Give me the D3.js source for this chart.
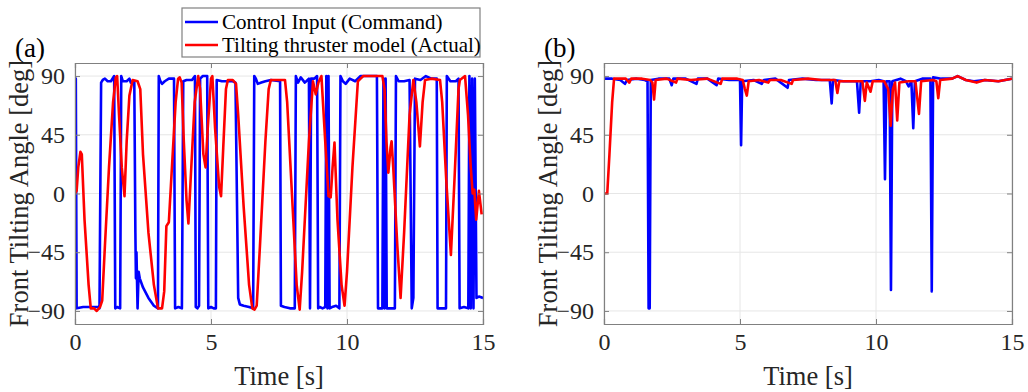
<!DOCTYPE html>
<html>
<head>
<meta charset="utf-8">
<script src="https://cdn.jsdelivr.net/npm/d3@7"></script>
<style>
  body { margin: 0; background: #fff; }
  svg { font-family: "Liberation Serif", "Times New Roman", serif; }
</style>
</head>
<body>
<svg id="chart" width="1028" height="392"></svg>
<script>
// tick labels
const xTicks = [0, 5, 10, 15];
const yTicks = [90, 45, 0, -45, -90];

// (a) command vs actual, [time s, angle deg]
const cmdA = [
  [0, 88], [0.03, 88], [0.06, -88], [0.3, -87], [0.6, -87], [0.85, -87], [0.9, -88], [0.96, 85], [1.02, 87],
  [1.1, 88], [1.2, 86], [1.32, 86], [1.44, 90], [1.48, -88], [1.55, -87], [1.66, -88], [1.7, 90], [1.76, 86],
  [1.9, 86], [2.0, 88], [2.05, 85], [2.12, 86], [2.18, 86], [2.22, -30], [2.24, -65], [2.26, -45], [2.3, -88],
  [2.34, -60], [2.38, -65], [2.5, -72], [2.7, -80], [2.9, -86], [3.05, -88], [3.08, 90], [3.14, 86], [3.2, 84],
  [3.3, 86], [3.45, 88], [3.64, 88], [3.68, -88], [3.8, -87], [3.93, -88], [3.98, 86], [4.1, 87], [4.3, 87],
  [4.41, 90], [4.44, -87], [4.5, -88], [4.56, -86], [4.6, 88], [4.7, 90], [4.86, 90], [4.9, -88], [5.0, -87],
  [5.1, -88], [5.18, -88], [5.21, 87], [5.4, 86], [5.6, 86], [5.8, 86], [5.9, 85], [6.0, -80], [6.06, -85],
  [6.2, -86], [6.4, -87], [6.55, -88], [6.59, 90], [6.65, 88], [6.72, 84], [6.85, 85], [7.0, 86], [7.2, 87],
  [7.54, 86], [7.57, -86], [7.7, -87], [7.9, -88], [8.08, -88], [8.12, 90], [8.2, 85], [8.3, 89], [8.45, 85],
  [8.6, 88], [8.64, -88], [8.68, 88], [8.8, 88], [8.9, 90], [8.94, -88], [9.0, -87], [9.1, -88], [9.2, -87],
  [9.24, 90], [9.28, -88], [9.32, 90], [9.36, -88], [9.45, -87], [9.6, -86], [9.72, -88], [9.76, 90], [9.85, 86],
  [9.95, 84], [10.1, 88], [10.3, 86], [10.5, 90], [10.8, 90], [11.1, 90], [11.14, -88], [11.3, -88], [11.34, 88],
  [11.38, -88], [11.42, 88], [11.46, -88], [11.6, -88], [11.76, -88], [11.8, 90], [11.9, 86], [12.1, 86],
  [12.3, 87], [12.38, -88], [12.44, -80], [12.5, 88], [12.7, 87], [12.9, 90], [13.1, 88], [13.3, 88],
  [13.33, -88], [13.5, -88], [13.64, -88], [13.67, 90], [13.8, 86], [14.0, 86], [14.1, 88], [14.14, -88],
  [14.3, -87], [14.46, -88], [14.5, 90], [14.55, -88], [14.6, 88], [14.65, -88], [14.7, 88], [14.76, -80],
  [14.85, -79], [15, -80]
];
const actA = [
  [0, 0], [0.06, 2], [0.12, 20], [0.2, 32], [0.25, 30], [0.35, -20], [0.5, -70], [0.58, -88], [0.7, -88],
  [0.8, -90], [0.92, -87], [1.0, -82], [1.1, -40], [1.25, 20], [1.4, 70], [1.5, 89], [1.55, 90], [1.62, 60],
  [1.72, 20], [1.82, -2], [1.9, 40], [2.0, 75], [2.12, 87], [2.3, 86], [2.4, 80], [2.5, 30], [2.7, -30],
  [2.9, -70], [3.05, -88], [3.2, -88], [3.28, -75], [3.36, -25], [3.45, -22], [3.55, 15], [3.7, 70], [3.79, 88],
  [3.85, 89], [3.92, 85], [4.0, 40], [4.1, -5], [4.17, -23], [4.25, 10], [4.4, 70], [4.53, 90], [4.6, 80],
  [4.72, 30], [4.8, 20], [4.88, 50], [5.0, 88], [5.05, 90], [5.15, 50], [5.3, 5], [5.37, -2], [5.45, 35],
  [5.55, 80], [5.62, 87], [5.8, 87], [5.92, 84], [6.0, 60], [6.2, -10], [6.4, -70], [6.52, -88], [6.6, -89],
  [6.68, -86], [6.8, -40], [7.0, 40], [7.12, 80], [7.2, 87], [7.5, 87], [7.72, 87], [7.8, 70], [8.0, -10],
  [8.15, -70], [8.26, -89], [8.35, -60], [8.6, 40], [8.75, 86], [8.85, 76], [8.95, 85], [9.06, 90], [9.2, 40],
  [9.32, -2], [9.4, -3], [9.47, 20], [9.54, 39], [9.65, -20], [9.8, -70], [9.91, -86], [10.0, -60], [10.2, 20],
  [10.4, 86], [10.5, 88], [10.6, 90], [11.0, 90], [11.3, 90], [11.38, 80], [11.45, 40], [11.52, 16], [11.6, 35],
  [11.64, 40], [11.7, 20], [11.85, -40], [11.97, -80], [12.1, -30], [12.3, 60], [12.44, 87], [12.55, 70],
  [12.68, 36], [12.78, 70], [12.87, 87], [13.1, 88], [13.42, 87], [13.5, 70], [13.65, 10], [13.82, -47],
  [13.95, 10], [14.1, 80], [14.15, 87], [14.34, 90], [14.45, 60], [14.55, 20], [14.62, 0], [14.68, 3],
  [14.75, -20], [14.85, 2], [14.95, -16]
];

// (b) command vs actual
const cmdB = [
  [0, 88], [0.3, 88], [0.6, 87], [0.77, 84], [0.85, 87], [1.2, 88], [1.5, 87], [1.6, 86], [1.64, -88],
  [1.68, -88], [1.72, 87], [2.0, 88], [2.4, 88], [2.49, 83], [2.55, 88], [3.0, 88], [3.4, 84], [3.45, 88],
  [3.8, 88], [4.14, 83], [4.2, 88], [4.6, 87], [5.0, 87], [5.04, 37], [5.08, 86], [5.5, 87], [5.8, 84],
  [5.88, 87], [6.3, 88], [6.75, 81], [6.8, 87], [7.3, 88], [7.8, 87], [8.3, 87], [8.37, 69], [8.42, 87],
  [8.8, 86], [9.3, 86], [9.38, 62], [9.44, 86], [9.8, 86], [10.1, 87], [10.28, 86], [10.33, 11], [10.38, 86],
  [10.5, 86], [10.55, -74], [10.6, 86], [10.9, 88], [11.1, 86], [11.2, 82], [11.3, 86], [11.37, 50],
  [11.43, 86], [11.7, 88], [12.0, 88], [12.05, -75], [12.1, 89], [12.4, 88], [12.8, 88], [13.0, 90],
  [13.3, 87], [13.6, 86], [14.0, 87], [14.5, 86], [15, 88]
];
const actB = [
  [0, 0], [0.12, 0], [0.2, 30], [0.3, 70], [0.37, 88], [0.8, 88], [0.93, 85], [1.0, 88], [1.4, 88], [1.7, 87],
  [1.78, 85], [1.84, 72], [1.9, 87], [2.3, 88], [2.65, 85], [2.7, 88], [3.2, 87], [3.8, 88], [4.29, 84],
  [4.35, 88], [4.9, 88], [5.1, 87], [5.18, 80], [5.25, 75], [5.32, 86], [5.7, 87], [6.04, 85], [6.1, 87],
  [6.5, 87], [6.9, 84], [6.95, 87], [7.5, 88], [8.0, 87], [8.5, 87], [8.58, 77], [8.65, 86], [9.2, 86],
  [9.5, 86], [9.59, 71], [9.66, 85], [9.8, 78], [9.88, 86], [10.3, 86], [10.45, 80], [10.54, 52], [10.62, 80],
  [10.7, 85], [10.78, 56], [10.86, 85], [11.2, 86], [11.45, 86], [11.58, 61], [11.66, 86], [12.1, 87],
  [12.22, 86], [12.29, 73], [12.36, 87], [12.8, 88], [13.0, 90], [13.3, 87], [13.7, 85], [14.0, 87],
  [14.5, 86], [15, 88]
];

const legendLabels = ['Control Input (Command)', 'Tilting thruster model (Actual)'];
const colors = ['#0000ff', '#ff0000'];

const svg = d3.select('#chart');
const plotTop = 63, plotBottom = 324;

function drawPanel(left, right, cmd, act, tag, id) {
  const x = d3.scaleLinear().domain([0, 15]).range([left, right]);
  const y = d3.scaleLinear().domain([-100, 100]).range([plotBottom, plotTop]);
  const g = svg.append('g');

  // grid
  g.selectAll('.gx').data(xTicks).enter().append('line')
    .attr('x1', d => x(d)).attr('x2', d => x(d))
    .attr('y1', plotTop).attr('y2', plotBottom)
    .attr('stroke', '#e6e6e6').attr('stroke-width', 1);
  g.selectAll('.gy').data(yTicks).enter().append('line')
    .attr('x1', left).attr('x2', right)
    .attr('y1', d => y(d)).attr('y2', d => y(d))
    .attr('stroke', '#e6e6e6').attr('stroke-width', 1);

  g.append('clipPath').attr('id', 'clip' + id)
    .append('rect').attr('x', left).attr('y', plotTop)
    .attr('width', right - left).attr('height', plotBottom - plotTop);

  const line = d3.line().x(d => x(d[0])).y(d => y(d[1]));
  [cmd, act].forEach((data, i) => {
    g.append('path').datum(data)
      .attr('d', line)
      .attr('fill', 'none')
      .attr('stroke', colors[i])
      .attr('stroke-width', 2.6)
      .attr('stroke-linejoin', 'round')
      .attr('clip-path', `url(#clip${id})`);
  });

  // axes (ticks inside, box)
  const axB = d3.axisBottom(x).tickValues(xTicks).tickSize(-5).tickPadding(9).tickFormat(d3.format('d'));
  const axT = d3.axisTop(x).tickValues(xTicks).tickSize(-5).tickFormat('');
  const axL = d3.axisLeft(y).tickValues(yTicks).tickSize(-5).tickPadding(10).tickFormat(d3.format('d'));
  const axR = d3.axisRight(y).tickValues(yTicks).tickSize(-5).tickFormat('');
  [
    [axB, `translate(0,${plotBottom})`],
    [axT, `translate(0,${plotTop})`],
    [axL, `translate(${left},0)`],
    [axR, `translate(${right},0)`]
  ].forEach(([ax, tr]) => {
    const a = g.append('g').attr('transform', tr).call(ax);
    a.select('.domain').attr('stroke', '#808080').attr('stroke-width', 1.2);
    a.selectAll('.tick line').attr('stroke', '#808080');
    a.selectAll('text')
      .style('font-family', '"Liberation Serif", serif')
      .style('font-size', '24px')
      .attr('fill', '#262626');
  });

  // axis titles
  g.append('text')
    .attr('x', (left + right) / 2).attr('y', 385)
    .attr('text-anchor', 'middle')
    .style('font-size', '26.5px').attr('fill', '#262626')
    .text('Time [s]');
  g.append('text')
    .attr('transform', `translate(${left - 47},${(plotTop + plotBottom) / 2}) rotate(-90)`)
    .attr('text-anchor', 'middle')
    .style('font-size', '26.5px').attr('fill', '#262626')
    .text('Front Tilting Angle [deg]');

  g.append('text')
    .attr('x', left - 60).attr('y', 57)
    .style('font-size', '27px').attr('fill', '#000')
    .text(tag);
}

drawPanel(75, 483, cmdA, actA, '(a)', 'a');
drawPanel(604, 1012, cmdB, actB, '(b)', 'b');

// legend
const leg = svg.append('g');
leg.append('rect')
  .attr('x', 182).attr('y', 8).attr('width', 298).attr('height', 49)
  .attr('fill', '#fff').attr('stroke', '#808080').attr('stroke-width', 1.2);
legendLabels.forEach((lab, i) => {
  const yy = 22 + i * 23;
  leg.append('line')
    .attr('x1', 185).attr('x2', 218).attr('y1', yy).attr('y2', yy)
    .attr('stroke', colors[i]).attr('stroke-width', 2.5);
  leg.append('text')
    .attr('x', 222).attr('y', yy + 7)
    .style('font-size', '21px').attr('fill', '#000')
    .text(lab);
});
</script>
</body>
</html>
